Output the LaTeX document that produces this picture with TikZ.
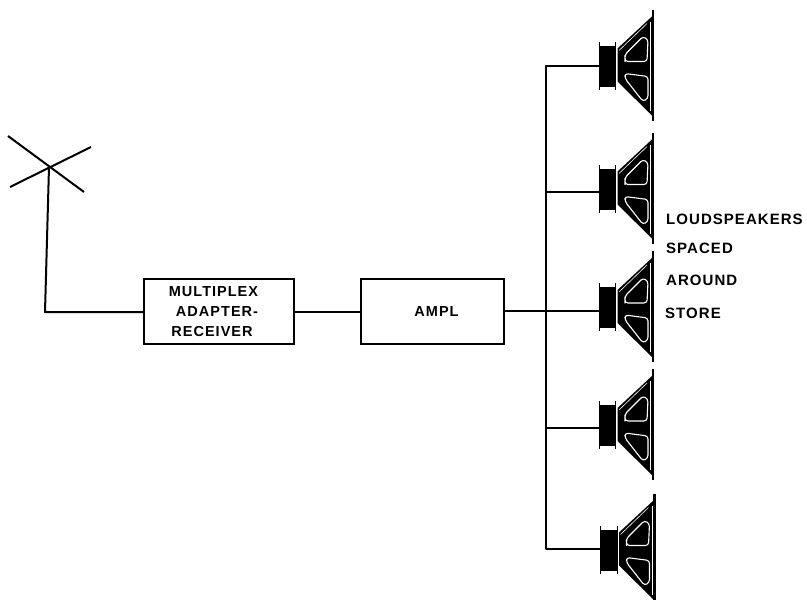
\documentclass[tikz,border=0pt]{standalone}
\usepackage{fontspec}
\setmainfont{Liberation Sans}
\newfontfamily\lblfont[LetterSpace=7]{Liberation Sans Bold}
\tikzset{
  x=1pt,y=-1pt,
  wire/.style={line width=2pt,black,line join=round},
  thin wire/.style={line width=1.6pt,black},
  blockbox/.style={draw=black,line width=2pt,fill=white,inner sep=0pt,align=center,font=\lblfont\fontsize{14.5pt}{20pt}\selectfont},
  label text/.style={inner sep=0pt,anchor=west,font=\lblfont\fontsize{15pt}{14pt}\selectfont},
  pics/speaker/.style={code={
    \fill[black] (-17.5,-20) rectangle (0,21);
    \draw[line width=.7pt] (-17,-24) -- (-17,24) (-0.5,-24) -- (-0.5,24);
    \fill[black] (1.5,-17) -- (37,-50) -- (37,51) -- (1.5,16) -- cycle;
    \draw[line width=2.4pt] (37,-56) -- (37,55);
    \draw[white,line width=1.1pt,line join=round,rounded corners=3pt] (9,-7) -- (9,-11) -- (27,-29) -- (32,-26) -- (31,-4) -- (9,-4) -- cycle;
    \draw[white,line width=1.1pt,line join=round,rounded corners=3pt] (9,8) -- (32,11) -- (32,33) -- (27,36) -- (9,13) -- cycle;
    \draw[white,line width=.7pt] (34.5,-44) -- (34.5,45);
    \draw[white,line width=.6pt] (3,-15) -- (31,-42);
    \coordinate (-in) at (-17.5,0);
  }}
}
\begin{document}
\begin{tikzpicture}
\useasboundingbox (0,0) rectangle (807,600);
\coordinate (ant) at (49,167);
\coordinate (a1) at (8,136);
\coordinate (a2) at (84,192);
\coordinate (a3) at (10,187);
\coordinate (a4) at (91,147);
\coordinate (corner) at (45,312);
\draw[wire] (a1) -- (a2);
\draw[wire] (a3) -- (a4);
\node[blockbox,minimum width=150pt,minimum height=65pt] (mux) at (219,311.5) {\hspace*{-11pt}MULTIPLEX\\\hspace*{-4pt}ADAPTER-\\\hspace*{-14pt}RECEIVER};
\node[blockbox,minimum width=143pt,minimum height=65pt] (ampl) at (432.5,311.5) {\hspace*{8pt}AMPL};
\draw[wire] (ant) -- (corner) -- (mux.west |- corner);
\draw[wire] (mux.east |- corner) -- (ampl.west |- corner);
\pic (s1) at (616,65.5) {speaker};
\pic (s2) at (616,188.5) {speaker};
\pic (s3) at (616,307) {speaker};
\pic (s4) at (616,425) {speaker};
\pic (s5) at (617.5,549.5) {speaker};
\coordinate (bustop) at (546,66);
\coordinate (bus2) at (546,192);
\coordinate (bus3) at (546,311);
\coordinate (bus4) at (546,428);
\coordinate (busbot) at (546,549);
\draw[wire] (s1-in |- bustop) -- (bustop) -- (busbot) -- (s5-in |- busbot);
\draw[thin wire] (bus2) -- (s2-in |- bus2);
\draw[thin wire] (bus4) -- (s4-in |- bus4);
\draw[wire] (ampl.east |- bus3) -- (bus3) -- (s3-in |- bus3);
\node[label text] (l1) at (666,219) {LOUDSPEAKERS};
\node[label text] (l2) at (666,248) {SPACED};
\node[label text] (l3) at (666,280) {AROUND};
\node[label text] (l4) at (665,313) {STORE};
\end{tikzpicture}
\end{document}
